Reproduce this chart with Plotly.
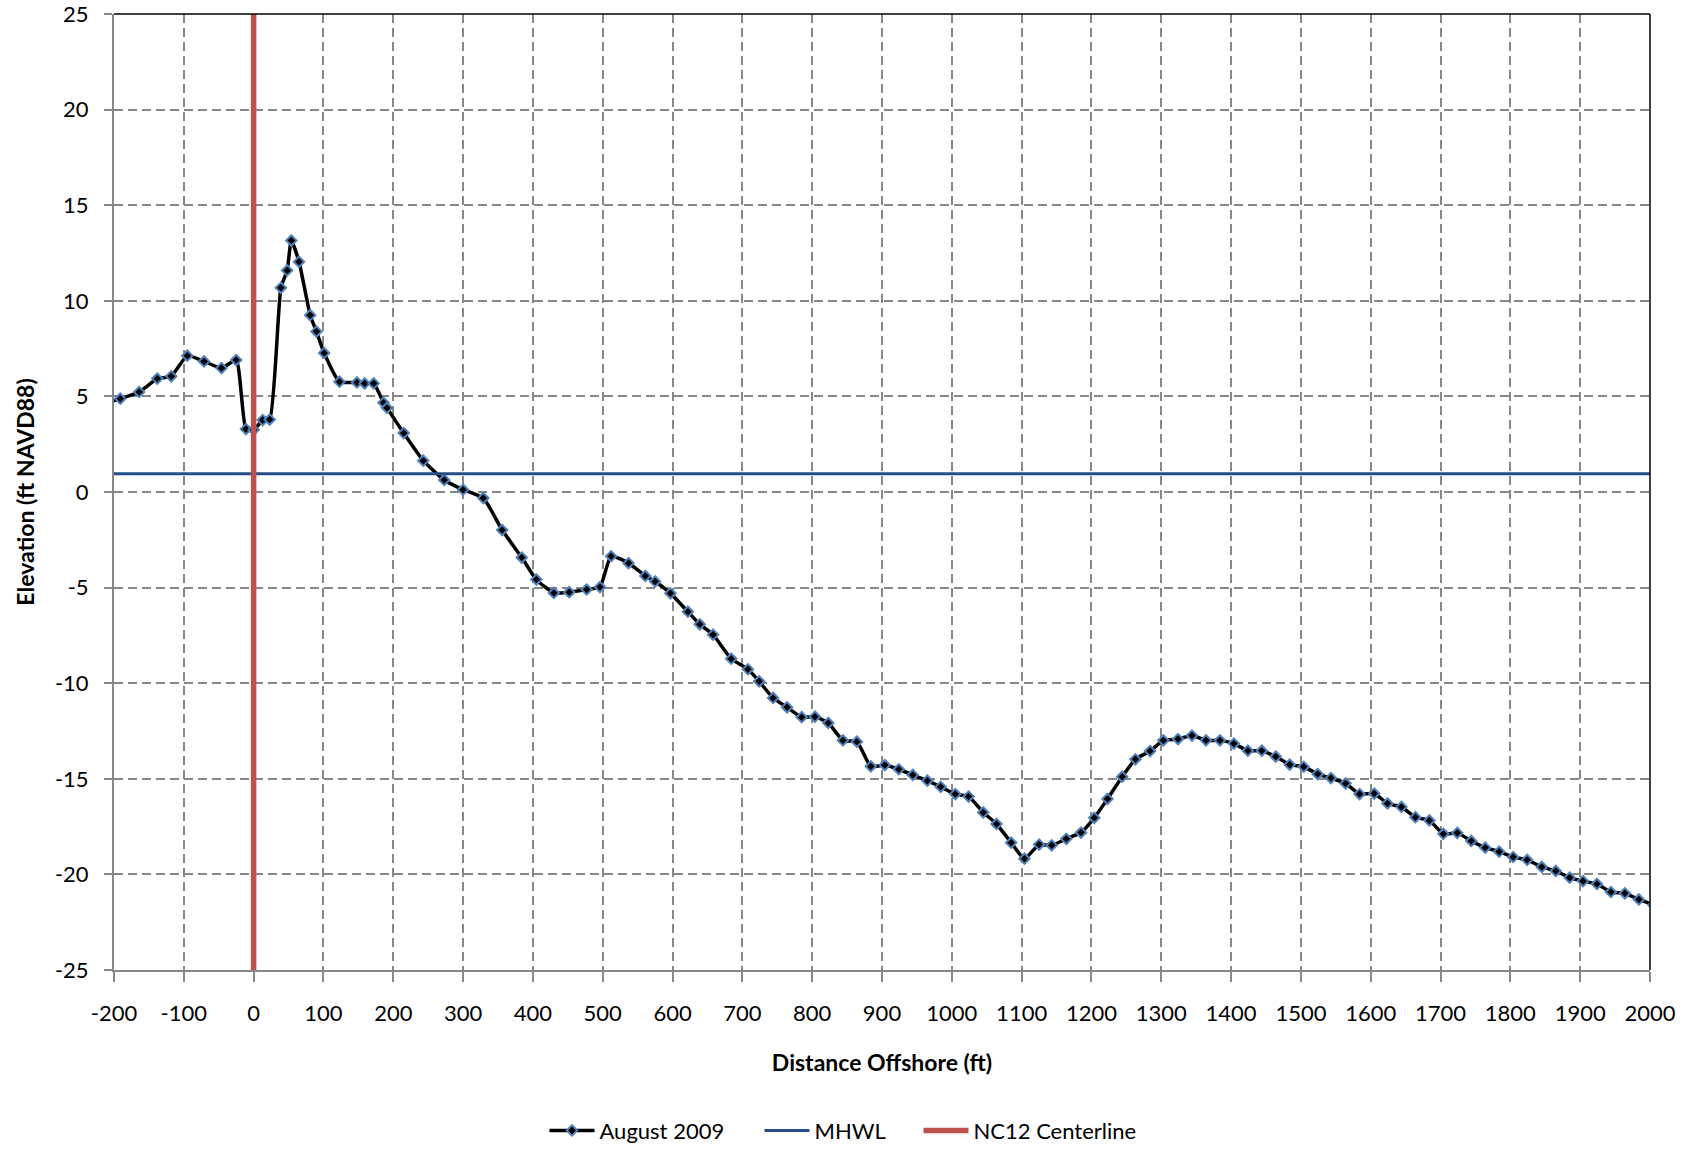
import plotly.graph_objects as go

# Survey profile, August 2009 (distance offshore ft, elevation ft NAVD88)
dist_ft = [-215, -191, -164, -138, -118, -95, -71, -46, -25, -11, 0, 13, 23, 39, 48, 54, 65, 81, 90, 101,
           123, 148, 159, 172, 186, 191, 215, 243, 273, 300, 329, 356, 384, 405, 430, 452, 477, 496, 512, 537,
           561, 575, 597, 622, 639, 658, 684, 708, 724, 744, 764, 785, 804, 823, 844, 864, 884, 904, 924, 944,
           965, 984, 1005, 1024, 1045, 1064, 1085, 1104, 1125, 1143, 1164, 1185, 1204, 1223, 1244, 1263, 1284,
           1303, 1324, 1344, 1364, 1384, 1404, 1424, 1444, 1464, 1484, 1504, 1524, 1543, 1564, 1584, 1605, 1624,
           1644, 1664, 1684, 1704, 1724, 1744, 1764, 1784, 1804, 1824, 1845, 1865, 1885, 1904, 1924, 1944, 1964,
           1984, 2005]
elev_ft = [4.6, 4.88, 5.23, 5.93, 6.05, 7.13, 6.83, 6.48, 6.9, 3.29, 3.25, 3.76, 3.79, 10.68, 11.59, 13.15,
           12.04, 9.25, 8.39, 7.27, 5.77, 5.73, 5.68, 5.68, 4.67, 4.4, 3.08, 1.64, 0.63, 0.12, -0.32, -1.99,
           -3.43, -4.58, -5.28, -5.24, -5.1, -4.97, -3.36, -3.72, -4.39, -4.68, -5.3, -6.26, -6.92, -7.46, -8.72,
           -9.27, -9.9, -10.77, -11.26, -11.78, -11.75, -12.08, -12.99, -13.06, -14.35, -14.28, -14.5, -14.8,
           -15.1, -15.42, -15.8, -15.93, -16.76, -17.36, -18.34, -19.18, -18.44, -18.48, -18.14, -17.81, -17.04,
           -16.05, -14.89, -13.98, -13.55, -12.99, -12.92, -12.74, -12.99, -12.99, -13.16, -13.53, -13.53,
           -13.84, -14.26, -14.37, -14.75, -14.96, -15.24, -15.8, -15.77, -16.29, -16.47, -17.01, -17.18,
           -17.88, -17.83, -18.25, -18.6, -18.81, -19.09, -19.24, -19.61, -19.82, -20.17, -20.35, -20.5, -20.92,
           -20.99, -21.31, -21.6]

mhwl_x = [-200, 2000]
mhwl_y = [0.95, 0.95]

centerline_x = [0, 0]
centerline_y = [-25, 25]

x_ticks = list(range(-200, 2001, 100))
y_ticks = list(range(-25, 26, 5))

FONT = "Lato"
GRID = "#878787"

fig = go.Figure()
fig.add_trace(go.Scatter(
    x=dist_ft, y=elev_ft, name="August 2009", mode="lines+markers",
    line=dict(color="black", width=3.5, shape="spline", smoothing=0.5),
    marker=dict(symbol="diamond", size=8, color="black", line=dict(color="#4F81BD", width=2)),
    legendwidth=155,
))
fig.add_trace(go.Scatter(
    x=mhwl_x, y=mhwl_y, name="MHWL", mode="lines",
    line=dict(color="#254E87", width=3),
    legendwidth=99,
))
fig.add_trace(go.Scatter(
    x=centerline_x, y=centerline_y, name="NC12 Centerline", mode="lines",
    line=dict(color="#C0504D", width=5.5),
))

fig.update_layout(
    width=1692, height=1151,
    margin=dict(l=114, r=42, t=14, b=181, autoexpand=False),
    paper_bgcolor="white", plot_bgcolor="white",
    font=dict(family=FONT, size=22, color="black"),
    showlegend=True,
    legend=dict(orientation="h", x=(843 - 114) / (1692 - 114 - 42), xanchor="center",
                y=-0.168, yanchor="middle", font=dict(size=22), itemwidth=45,
                traceorder="normal"),
    xaxis=dict(
        range=[-200, 2000], tickvals=x_ticks, ticktext=[str(v) for v in x_ticks],
        showgrid=True, gridcolor=GRID, gridwidth=1.8, griddash="9px,5px",
        zeroline=False, showline=True, linecolor=GRID, linewidth=2, automargin=False,
        ticks="outside", ticklen=10, tickcolor=GRID, tickwidth=1.5,
        ticklabelstandoff=13, tickfont=dict(size=22), ticklabeloverflow="allow",
        title=dict(text="Distance Offshore (ft)", font=dict(size=23, weight="bold"), standoff=29),
    ),
    yaxis=dict(
        range=[-25, 25], tickvals=y_ticks, ticktext=[str(v) for v in y_ticks],
        showgrid=True, gridcolor=GRID, gridwidth=1.8, griddash="9px,5px",
        zeroline=False, showline=True, linecolor=GRID, linewidth=2, automargin=False,
        ticks="outside", ticklen=8, tickcolor=GRID, tickwidth=1.5,
        ticklabelstandoff=11, tickfont=dict(size=22), ticklabeloverflow="allow",
        title=dict(text="Elevation (ft NAVD88)", font=dict(size=23, weight="bold"), standoff=14),
    ),
    shapes=[
        dict(type="line", xref="paper", yref="paper", x0=0, x1=1, y0=1, y1=1,
             line=dict(color="black", width=1.5)),
        dict(type="line", xref="paper", yref="paper", x0=1, x1=1, y0=0, y1=1,
             line=dict(color="black", width=1.5)),
    ],
)

fig.write_html("out.html", config={"displayModeBar": False},
               post_script="document.body.style.margin='0';")
